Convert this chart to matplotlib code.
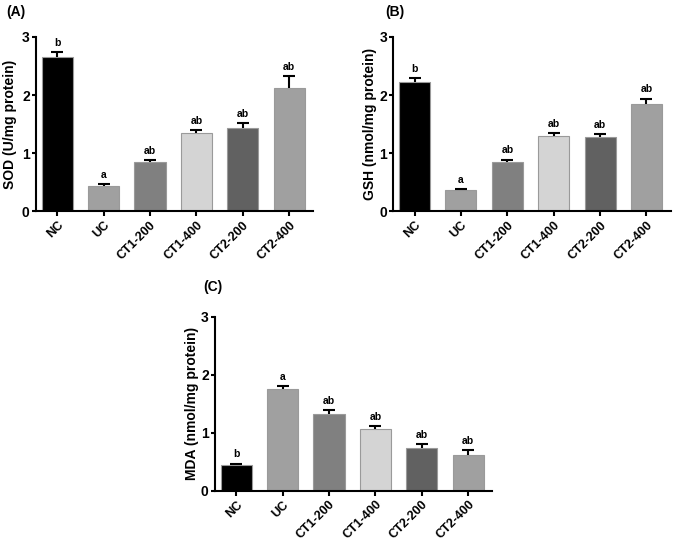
import matplotlib
matplotlib.use("Agg")
import matplotlib.pyplot as plt

plt.rcParams['font.family'] = ['Liberation Sans', 'DejaVu Sans']
plt.rcParams['font.weight'] = 'bold'

groups = ['NC', 'UC', 'CT1-200', 'CT1-400', 'CT2-200', 'CT2-400']
colors = ['#000000', '#a0a0a0', '#808080', '#d4d4d4', '#616161', '#a0a0a0']

sod = [2.66, 0.44, 0.84, 1.34, 1.43, 2.12]
sod_err = [0.08, 0.03, 0.04, 0.06, 0.08, 0.21]
sod_sig = ['b', 'a', 'ab', 'ab', 'ab', 'ab']

gsh = [2.22, 0.37, 0.85, 1.30, 1.27, 1.85]
gsh_err = [0.07, 0.02, 0.04, 0.05, 0.06, 0.09]
gsh_sig = ['b', 'a', 'ab', 'ab', 'ab', 'ab']

mda = [0.45, 1.75, 1.33, 1.07, 0.73, 0.61]
mda_err = [0.02, 0.05, 0.06, 0.04, 0.08, 0.10]
mda_sig = ['b', 'a', 'ab', 'ab', 'ab', 'ab']


def panel(ax, values, errors, sig, ylabel, label_x):
    x = range(len(groups))
    ax.bar(x, values, width=0.67, color=colors, edgecolor='#9a9a9a', linewidth=0.8, zorder=2)
    eb = ax.errorbar(x, values, yerr=[[0] * len(values), errors], fmt='none',
                     ecolor='black', elinewidth=1.5, capsize=4.5, capthick=1.5, zorder=3)
    # only keep the upper cap, like the prism style
    eb[1][0].set_visible(False)
    for i, (v, e, s) in enumerate(zip(values, errors, sig)):
        ax.text(i, v + e + 0.07, s, ha='center', va='bottom', fontsize=7.5, fontweight='bold')
    ax.set_xlim(-0.46, 5.52)
    ax.set_ylim(0, 3)
    ax.set_yticks([0, 1, 2, 3])
    ax.set_xticks(list(x))
    ax.set_xticklabels(groups, rotation=45, ha='right', rotation_mode='anchor',
                       fontsize=9, fontweight='bold')
    ax.tick_params(axis='y', labelsize=10, width=1.5, length=3, pad=1.5)
    ax.tick_params(axis='x', width=1.5, length=3.5, pad=2)
    for lab in ax.get_yticklabels():
        lab.set_fontweight('bold')
    ax.spines['top'].set_visible(False)
    ax.spines['right'].set_visible(False)
    ax.spines['left'].set_linewidth(1.5)
    ax.spines['bottom'].set_linewidth(1.5)
    ax.set_ylabel(ylabel, fontsize=10, fontweight='bold')
    ax.yaxis.set_label_coords(label_x, 0.5)


fig = plt.figure(figsize=(6.78, 5.43), dpi=100)
ax_a = fig.add_axes([0.053, 0.611, 0.409, 0.321])
ax_b = fig.add_axes([0.580, 0.611, 0.409, 0.321])
ax_c = fig.add_axes([0.317, 0.096, 0.409, 0.321])

panel(ax_a, sod, sod_err, sod_sig, 'SOD (U/mg protein)', -0.069)
panel(ax_b, gsh, gsh_err, gsh_sig, 'GSH (nmol/mg protein)', -0.057)
panel(ax_c, mda, mda_err, mda_sig, 'MDA (nmol/mg protein)', -0.057)

fig.text(6 / 678, 1 - 12 / 543, '(A)', fontsize=10, fontweight='bold', va='center')
fig.text(385 / 678, 1 - 12 / 543, '(B)', fontsize=10, fontweight='bold', va='center')
fig.text(203 / 678, 1 - 287 / 543, '(C)', fontsize=10, fontweight='bold', va='center')

fig.savefig('out.png', dpi=100)
